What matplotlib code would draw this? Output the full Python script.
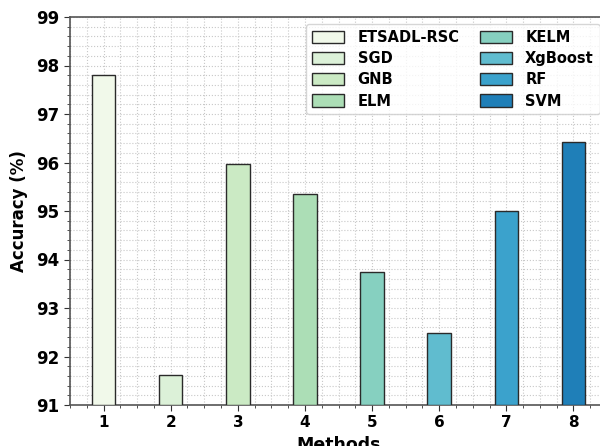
import matplotlib
matplotlib.use("Agg")
import matplotlib.pyplot as plt
from matplotlib.ticker import AutoMinorLocator, MultipleLocator

methods = ["ETSADL-RSC", "SGD", "GNB", "ELM", "KELM", "XgBoost", "RF", "SVM"]
positions = [1, 2, 3, 4, 5, 6, 7, 8]
accuracy = [97.80, 91.62, 95.97, 95.35, 93.74, 92.48, 95.00, 96.42]
colors = ["#f1f9ea", "#dcf1d8", "#cbeac4", "#acdeb6", "#86d0c0", "#60bccf", "#3ba2cc", "#1f7fb8"]

fig = plt.figure(figsize=(6, 4.46), dpi=100)
ax = fig.add_axes([70/600, 41/446, 537/600, 388/446])

for p, v, c, m in zip(positions, accuracy, colors, methods):
    ax.bar(p, v - 91, bottom=91, width=0.35, color=c, edgecolor="#2a2a2a",
           linewidth=1.0, label=m, zorder=3)

ax.set_ylim(91, 99)
ax.set_xlim(0.5, 8.5)
ax.set_xticks(positions)
ax.xaxis.set_minor_locator(MultipleLocator(0.25))
ax.yaxis.set_minor_locator(AutoMinorLocator(5))
ax.grid(True, which="both", linestyle=":", color="#c8c8c8", linewidth=0.8, zorder=0)
ax.set_axisbelow(True)
for s in ax.spines.values():
    s.set_color("#555555")
    s.set_linewidth(1.2)
ax.tick_params(which="both", direction="out", colors="#333333", labelcolor="black")
ax.tick_params(which="major", length=4)
ax.tick_params(which="minor", length=2.5)
for lbl in ax.get_xticklabels():
    lbl.set_fontweight("bold")
    lbl.set_fontsize(11)
for lbl in ax.get_yticklabels():
    lbl.set_fontweight("bold")
    lbl.set_fontsize(12)
ax.set_ylabel("Accuracy (%)", fontsize=12, fontweight="bold", labelpad=6)
ax.set_xlabel("Methods", fontsize=12.5, fontweight="bold", labelpad=4)
ax.legend(ncol=2, loc="upper right", bbox_to_anchor=(1.0, 1.0),
          prop={"weight": "bold", "size": 10.5}, frameon=True, fancybox=True,
          handlelength=2.2, handleheight=0.9, columnspacing=1.4, labelspacing=0.42,
          handletextpad=0.9)

fig.savefig("out.png", dpi=100)
